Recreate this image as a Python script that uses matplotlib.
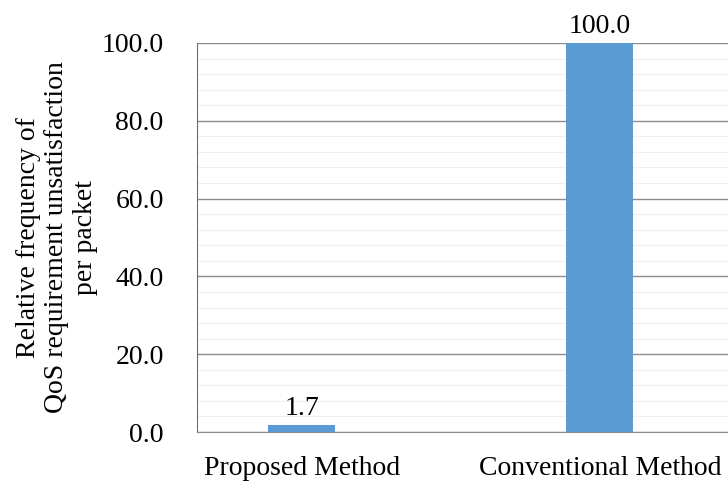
import matplotlib.pyplot as plt
from matplotlib.ticker import MultipleLocator

categories = ["Proposed Method", "Conventional Method"]
values = [1.7, 100.0]

plt.rcParams["font.family"] = ["Liberation Serif", "DejaVu Serif"]
FS = 20

fig = plt.figure(figsize=(7.28, 4.82), dpi=100)
ax = fig.add_axes([197 / 728, 1 - 432 / 482, 1 - 197 / 728, (432 - 43) / 482])

x = list(range(len(categories)))
ax.bar(x, values, width=0.225, color="#5B9BD5", zorder=3)
for xi, v in zip(x, values):
    ax.text(xi, v + 1.0, f"{v:.1f}", ha="center", va="bottom", fontsize=FS)

ax.set_xlim(-0.352, 1.43)
ax.set_ylim(0, 100)
ax.set_xticks(x)
ax.set_xticklabels(categories, fontsize=FS)
ax.yaxis.set_major_locator(MultipleLocator(20))
ax.yaxis.set_minor_locator(MultipleLocator(4))
ax.set_yticklabels([f"{t:.1f}" for t in ax.get_yticks()], fontsize=FS)
ax.tick_params(axis="both", which="both", length=0)
ax.tick_params(axis="y", pad=24)
ax.tick_params(axis="x", pad=17)

ax.grid(axis="y", which="major", color="#8c8c8c", linewidth=1.0, zorder=1)
ax.grid(axis="y", which="minor", color="#efefef", linewidth=0.8, zorder=1)

for side in ["top", "right"]:
    ax.spines[side].set_visible(False)
ax.spines["left"].set_color("#6e6e6e")
ax.spines["bottom"].set_color("#8c8c8c")

ax.set_ylabel("Relative frequency of\nQoS requirement unsatisfaction\nper packet",
              fontsize=FS, linespacing=1.2, va="center")
ax.yaxis.set_label_coords((57 - 197) / 531, 0.5)

fig.savefig("out.png", dpi=100)
